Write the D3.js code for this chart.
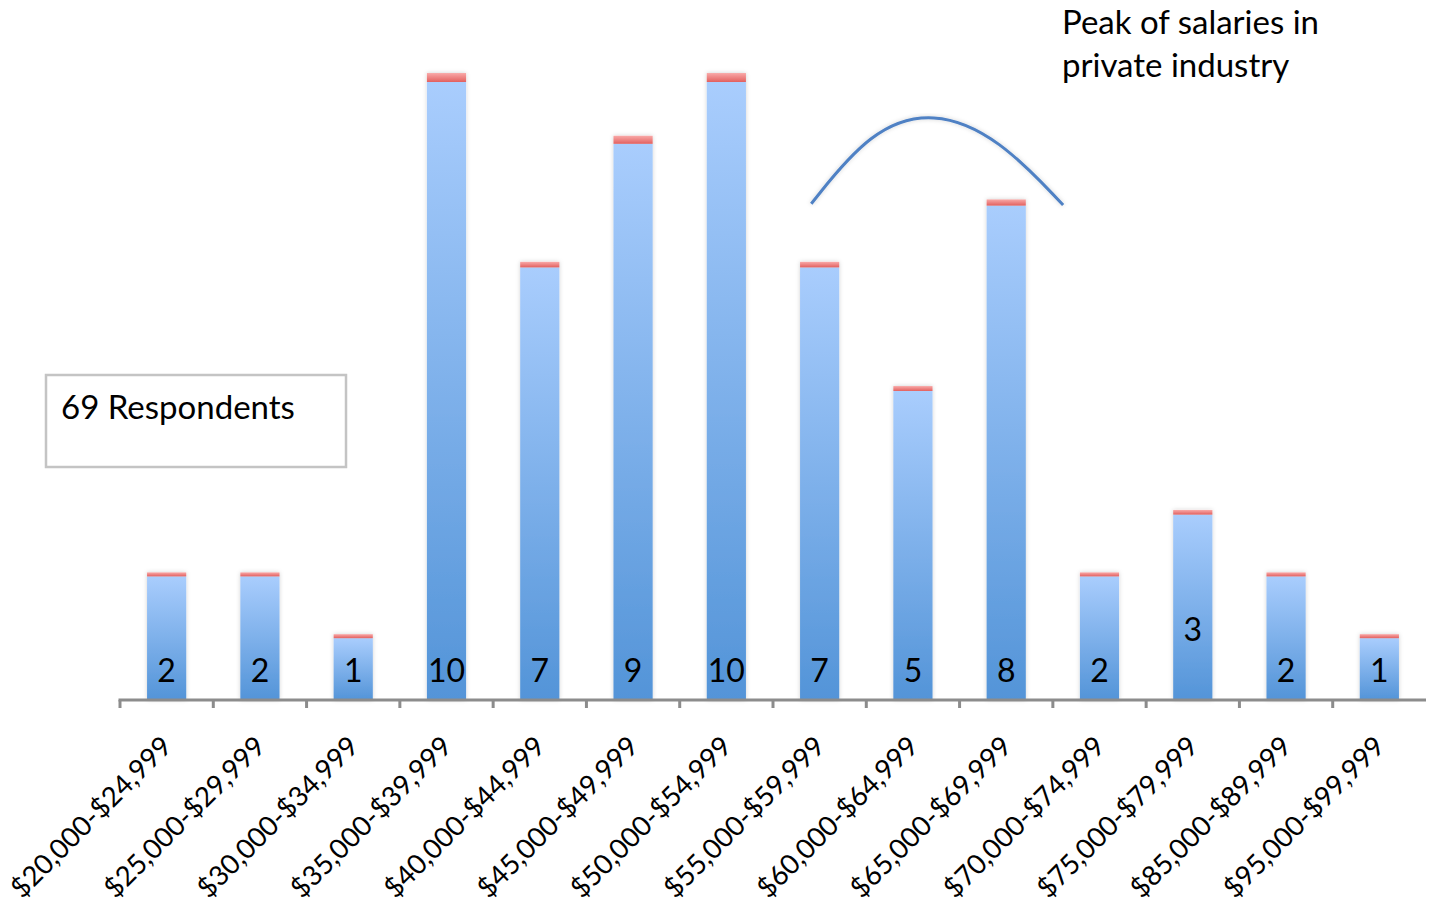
<!DOCTYPE html>
<html lang="en">
<head>
<meta charset="UTF-8">
<title>Salary ranges of respondents</title>
<script src="https://d3js.org/d3.v7.min.js"></script>
<style>
  body { margin: 0; background: #fff; }
  svg { display: block; font-family: Lato, "Open Sans", sans-serif; }
  .axis-line { stroke: #8c8c8c; stroke-width: 3; }
  .tick-mark { stroke: #8c8c8c; stroke-width: 3; }
  .value-label { font-size: 32px; fill: #000; text-anchor: middle; }
  .cat-label { font-size: 27.5px; fill: #000; text-anchor: end; }
  .note { font-size: 33px; fill: #000; }
  .peak-line { fill: none; stroke: #4f81c4; stroke-width: 3; }
</style>
</head>
<body>
<script>
  // salary ranges and number of respondents in each
  var categories = ["$20,000-$24,999", "$25,000-$29,999", "$30,000-$34,999", "$35,000-$39,999",
                    "$40,000-$44,999", "$45,000-$49,999", "$50,000-$54,999", "$55,000-$59,999",
                    "$60,000-$64,999", "$65,000-$69,999", "$70,000-$74,999", "$75,000-$79,999",
                    "$85,000-$89,999", "$95,000-$99,999"];
  var counts = [2, 2, 1, 10, 7, 9, 10, 7, 5, 8, 2, 3, 2, 1];
  // thin red second series stacked on top of each bar
  var capValues = [0.065, 0.065, 0.065, 0.145, 0.09, 0.13, 0.145, 0.09, 0.08, 0.1, 0.065, 0.075, 0.065, 0.065];

  // hand drawn "peak" arc: spline control points in (category position, count) units
  var peakArc = [[7.41, 8.03], [8.04, 9.22], [8.72, 9.55], [9.43, 9.09], [10.11, 8.01]];

  var totalRespondents = 69;
  var peakNote = ["Peak of salaries in", "private industry"];

  var width = 1432, height = 903;

  var svg = d3.select("body").append("svg")
      .attr("width", width)
      .attr("height", height);

  var defs = svg.append("defs");

  var blueGrad = defs.append("linearGradient")
      .attr("id", "blueGrad").attr("x1", 0).attr("y1", 0).attr("x2", 0).attr("y2", 1);
  blueGrad.append("stop").attr("offset", "0%").attr("stop-color", "#a9cdfd");
  blueGrad.append("stop").attr("offset", "100%").attr("stop-color", "#5394d8");

  var redGrad = defs.append("linearGradient")
      .attr("id", "redGrad").attr("x1", 0).attr("y1", 0).attr("x2", 0).attr("y2", 1);
  redGrad.append("stop").attr("offset", "0%").attr("stop-color", "#f9a9a8");
  redGrad.append("stop").attr("offset", "100%").attr("stop-color", "#e2605f");

  var shadow = defs.append("filter").attr("id", "shadow")
      .attr("x", "-20%").attr("y", "-5%").attr("width", "140%").attr("height", "110%");
  shadow.append("feDropShadow")
      .attr("dx", 0).attr("dy", 0).attr("stdDeviation", 2)
      .attr("flood-color", "#000").attr("flood-opacity", 0.18);

  // scales
  var x = d3.scaleBand().domain(categories).range([120, 1426]).paddingInner(0.58).paddingOuter(0.29);
  var xPos = d3.scaleLinear().domain([0, categories.length]).range([120, 1426]);
  var y = d3.scaleLinear().domain([0, 10]).range([700, 82]);

  var rows = categories.map(function(c, i) {
    return {cat: c, count: counts[i], cap: capValues[i]};
  });

  // bars
  var bars = svg.append("g").attr("filter", "url(#shadow)");

  bars.selectAll("rect.main").data(rows).enter().append("rect")
      .attr("class", "main")
      .attr("x", d => x(d.cat))
      .attr("width", x.bandwidth())
      .attr("y", d => y(d.count))
      .attr("height", d => y(0) - y(d.count))
      .attr("fill", "url(#blueGrad)");

  bars.selectAll("rect.cap").data(rows).enter().append("rect")
      .attr("class", "cap")
      .attr("x", d => x(d.cat))
      .attr("width", x.bandwidth())
      .attr("y", d => y(d.count + d.cap))
      .attr("height", d => y(d.count) - y(d.count + d.cap))
      .attr("fill", "url(#redGrad)");

  // value labels at the base of each bar (the $75k one sits higher)
  svg.selectAll("text.value-label").data(rows).enter().append("text")
      .attr("class", "value-label")
      .attr("x", d => x(d.cat) + x.bandwidth() / 2)
      .attr("y", d => d.cat === "$75,000-$79,999" ? 641 : 682)
      .text(d => d.count);

  // axis line and tick marks at category boundaries
  svg.append("line")
      .attr("class", "axis-line")
      .attr("x1", xPos(0) - 1.5).attr("x2", xPos(categories.length))
      .attr("y1", y(0)).attr("y2", y(0));

  svg.selectAll("line.tick-mark").data(d3.range(categories.length)).enter().append("line")
      .attr("class", "tick-mark")
      .attr("x1", d => xPos(d)).attr("x2", d => xPos(d))
      .attr("y1", y(0)).attr("y2", y(0) + 8);

  // rotated category labels
  svg.selectAll("text.cat-label").data(categories).enter().append("text")
      .attr("class", "cat-label")
      .attr("transform", d => "translate(" + (x(d) + x.bandwidth() / 2 + 7) + ",748) rotate(-45)")
      .text(d => d);

  // respondents box
  svg.append("rect")
      .attr("x", 46).attr("y", 375).attr("width", 300).attr("height", 92)
      .attr("fill", "#fff").attr("stroke", "#c4c4c4").attr("stroke-width", 2.5);
  svg.append("text")
      .attr("class", "note")
      .attr("x", 61).attr("y", 419)
      .text(totalRespondents + " Respondents");

  // peak arc and its note
  var arcLine = d3.line()
      .x(d => xPos(d[0]))
      .y(d => y(d[1]))
      .curve(d3.curveBasis);

  svg.append("path")
      .datum(peakArc)
      .attr("class", "peak-line")
      .attr("filter", "url(#shadow)")
      .attr("d", arcLine);

  svg.append("text")
      .attr("class", "note")
      .selectAll("tspan").data(peakNote).enter().append("tspan")
      .attr("x", 1062)
      .attr("y", (d, i) => 34 + i * 43)
      .text(d => d);
</script>
</body>
</html>
